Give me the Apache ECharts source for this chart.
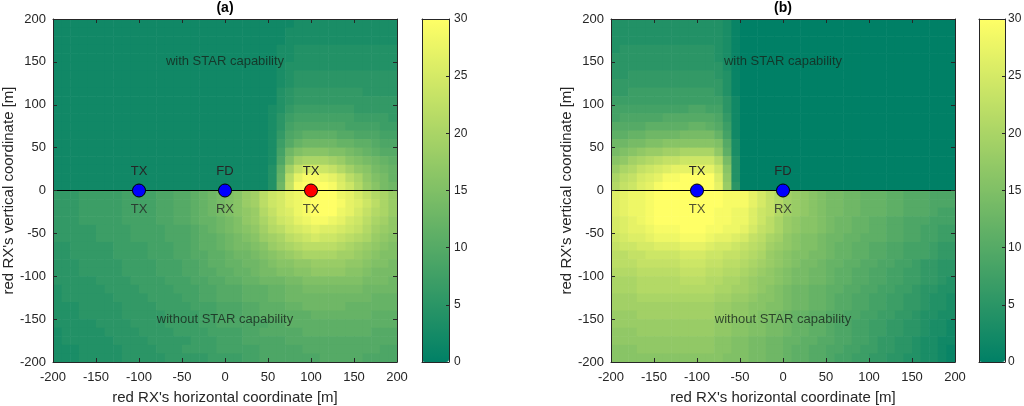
<!DOCTYPE html>
<html>
<head>
<meta charset="utf-8">
<script src="https://cdn.jsdelivr.net/npm/echarts@6/dist/echarts.min.js"></script>
<style>
html,body{margin:0;padding:0;background:#fff;}
#chart{width:1024px;height:406px;}
</style>
</head>
<body>
<div id="chart"></div>
<script>
// ---------- data ----------
const xCenters = [-195,-185,-175,-165,-155,-145,-135,-125,-115,-105,-95,-85,-75,-65,-55,-45,-35,-25,-15,-5,
                  5,15,25,35,45,55,65,75,85,95,105,115,125,135,145,155,165,175,185,195];
const yCenters = [195,185,175,165,155,145,135,125,115,105,95,85,75,65,55,45,35,25,15,5,
                  -5,-15,-25,-35,-45,-55,-65,-75,-85,-95,-105,-115,-125,-135,-145,-155,-165,-175,-185,-195];

// panel (a): upper half (with STAR capability), rows y=195..5, columns x=-195..195
const panelAUpper = [
  [2,2,2,2,2,2,2,2,2,2, 2,2,2,2,2,2,2,2,2,2, 2,2,2,2,2,2,2,2,3,3, 3,3,3,3,3,3,3,3,3,3],
  [2,2,2,2,2,2,2,2,2,2, 2,2,2,2,2,2,2,2,2,2, 2,2,2,2,2,2,2,3,3,3, 3,3,3,3,3,3,3,3,3,3],
  [2,2,2,2,2,2,2,2,2,2, 2,2,2,2,2,2,2,2,2,2, 2,2,2,2,2,2,2,3,3,3, 3,3,3,3,3,3,3,3,3,3],
  [2,2,2,2,2,2,2,2,2,2, 2,2,2,2,2,2,2,2,2,2, 2,2,2,2,2,2,3,3,4,4, 4,4,4,4,4,4,4,4,4,4],
  [2,2,2,2,2,2,2,2,2,2, 2,2,2,2,2,2,2,2,2,2, 2,2,2,2,2,2,3,3,4,4, 4,4,4,4,4,4,4,4,4,4],
  [2,2,2,2,2,2,2,2,2,2, 2,2,2,2,2,2,2,2,2,2, 2,2,2,2,2,2,3,4,4,4, 4,4,4,4,4,4,4,4,4,4],
  [2,2,2,2,2,2,2,2,2,2, 2,2,2,2,2,2,2,2,2,2, 2,2,2,2,2,2,3,4,5,5, 5,5,5,5,5,5,5,5,5,5],
  [2,2,2,2,2,2,2,2,2,2, 2,2,2,2,2,2,2,2,2,2, 2,2,2,2,2,2,3,4,5,5, 5,5,5,5,5,5,5,5,5,5],
  [2,2,2,2,2,2,2,2,2,2, 2,2,2,2,2,2,2,2,2,2, 2,2,2,2,2,2,4,5,6,6, 6,6,6,6,6,6,5,5,5,5],
  [2,2,2,2,2,2,2,2,2,2, 2,2,2,2,2,2,2,2,2,2, 2,2,2,2,2,2,4,5,6,6, 6,6,6,6,6,6,6,6,6,6],
  [2,2,2,2,2,2,2,2,2,2, 2,2,2,2,2,2,2,2,2,2, 2,2,2,2,2,3,4,6,7,7, 7,7,7,7,7,6,6,6,6,6],
  [2,2,2,2,2,2,2,2,2,2, 2,2,2,2,2,2,2,2,2,2, 2,2,2,2,2,3,5,7,8,8, 8,8,8,8,8,7,7,7,7,6],
  [2,2,2,2,2,2,2,2,2,2, 2,2,2,2,2,2,2,2,2,2, 2,2,2,2,2,3,5,8,9,9, 9,9,9,9,8,8,8,8,7,7],
  [2,2,2,2,2,2,2,2,2,2, 2,2,2,2,2,2,2,2,2,2, 2,2,2,2,2,3,6,9,10,11, 11,11,11,10,10,9,9,9,8,8],
  [2,2,2,2,2,2,2,2,2,2, 2,2,2,2,2,2,2,2,2,2, 2,2,2,2,2,3,7,10,12,13, 13,13,13,12,12,11,11,10,9,9],
  [2,2,2,2,2,2,2,2,2,2, 2,2,2,2,2,2,2,2,2,2, 2,2,2,2,2,3,8,13,15,16, 16,16,15,15,14,13,12,11,10,10],
  [2,2,2,2,2,2,2,2,2,2, 2,2,2,2,2,2,2,2,2,2, 2,2,2,2,2,3,9,15,19,20, 20,20,19,18,16,15,14,13,12,11],
  [2,2,2,2,2,2,2,2,2,2, 2,2,2,2,2,2,2,2,2,2, 2,2,2,2,2,4,11,19,23,25, 25,24,23,21,19,17,16,14,13,12],
  [2,2,2,2,2,2,2,2,2,2, 2,2,2,2,2,2,2,2,2,2, 2,2,2,2,2,4,12,22,27,29, 29,28,27,25,22,20,17,15,14,12],
  [2,2,2,2,2,2,2,2,2,2, 2,2,2,2,2,2,2,2,2,2, 2,2,2,2,2,4,13,23,29,30, 30,30,29,26,24,21,18,16,14,13]
];
// panel (a): lower half (without STAR capability), rows y=-5..-195
const panelALower = [
  [6,6,6,7,7,7,7,7,8,8, 8,8,9,9,10,10,11,12,13,14, 15,16,18,19,22,24,25,27,28,29, 30,30,30,28,27,25,23,21,20,18],
  [6,6,6,7,7,7,7,7,8,8, 8,8,9,9,10,10,11,12,13,14, 15,16,18,19,22,24,25,27,28,29, 30,30,30,29,27,26,24,22,20,18],
  [6,6,6,7,7,7,7,7,8,8, 8,8,9,9,10,10,11,12,13,14, 15,16,17,18,21,23,25,26,28,29, 30,30,30,28,27,25,23,21,20,18],
  [6,6,6,7,7,7,7,7,8,8, 8,8,9,9,10,10,11,12,12,13, 14,15,17,18,20,22,24,25,27,28, 29,29,28,27,25,24,22,20,19,17],
  [6,6,6,6,6,7,7,7,7,8, 8,8,8,9,9,9,10,11,12,13, 14,15,16,17,19,21,22,24,25,26, 27,26,26,25,24,23,21,19,18,17],
  [6,6,6,6,6,7,7,7,7,8, 8,8,8,9,9,9,10,11,11,12, 13,14,15,16,18,19,20,22,23,24, 25,24,24,23,22,21,20,18,17,16],
  [5,5,6,6,6,6,6,7,7,7, 7,8,8,8,9,9,10,11,11,12, 13,14,14,15,16,18,19,20,21,22, 22,22,22,21,20,19,18,17,16,15],
  [5,5,6,6,6,6,6,7,7,7, 7,8,8,8,9,9,10,10,11,11, 12,13,13,14,15,16,17,18,19,20, 20,20,20,19,19,18,17,16,15,15],
  [5,5,5,6,6,6,6,6,7,7, 7,7,8,8,8,9,9,10,11,11, 12,12,13,13,14,15,16,16,17,17, 18,18,18,18,17,17,16,15,15,14],
  [5,5,5,6,6,6,6,6,7,7, 7,7,8,8,8,9,9,10,10,11, 11,12,12,13,14,14,15,15,16,16, 17,17,17,17,16,16,15,14,14,14],
  [5,5,5,5,5,6,6,6,6,7, 7,7,7,8,8,8,9,9,10,10, 11,11,12,12,13,13,13,14,14,15, 15,15,15,15,15,15,14,14,14,13],
  [4,5,5,5,5,5,6,6,6,6, 7,7,7,7,8,8,8,9,9,10, 10,10,11,11,11,12,12,13,13,14, 14,14,14,14,14,14,13,13,13,13],
  [4,5,5,5,5,5,5,6,6,6, 6,7,7,7,7,8,8,9,9,10, 10,10,11,11,11,12,12,13,13,13, 13,13,13,13,13,13,13,12,12,12],
  [4,4,4,5,5,5,5,5,6,6, 6,6,7,7,7,7,8,8,8,9, 9,9,10,10,11,11,11,12,12,13, 13,13,13,13,12,12,12,12,12,12],
  [4,4,4,5,5,5,5,5,6,6, 6,6,6,7,7,7,7,8,8,9, 9,9,10,10,11,11,11,11,11,11, 12,12,12,12,12,12,12,11,11,11],
  [4,4,4,4,4,5,5,5,5,6, 6,6,6,7,7,7,7,8,8,9, 9,9,9,9,9,10,10,11,11,11, 11,11,11,11,11,11,11,11,11,11],
  [3,4,4,4,4,4,5,5,5,5, 6,6,6,6,7,7,7,7,8,8, 8,8,9,9,10,10,10,10,10,11, 11,11,11,11,11,11,11,10,10,10],
  [3,4,4,4,4,4,4,5,5,5, 5,6,6,6,6,6,7,7,7,8, 8,8,9,9,9,9,9,10,10,10, 10,10,10,10,10,10,10,10,10,10],
  [3,3,3,4,4,4,4,4,5,5, 5,5,6,6,6,7,7,7,7,8, 8,8,8,8,9,9,9,9,9,10, 10,10,10,10,10,10,10,10,9,9],
  [3,3,3,4,4,4,4,4,5,5, 5,5,5,6,6,6,6,6,7,7, 7,7,8,8,9,9,9,9,9,9, 9,10,10,10,10,10,9,9,9,9]
];
// panel (b): upper half (with STAR capability), rows y=195..5
const panelBUpper = [
  [4,4,4,4,4,4,4,4,4,4, 4,4,4,3,1,0,0,0,0,0, 0,0,0,0,0,0,0,0,0,0, 0,0,0,0,0,0,0,0,0,0],
  [4,4,4,4,4,4,4,4,4,4, 4,4,4,3,1,0,0,0,0,0, 0,0,0,0,0,0,0,0,0,0, 0,0,0,0,0,0,0,0,0,0],
  [4,4,4,4,4,4,4,4,4,4, 4,4,4,3,1,0,0,0,0,0, 0,0,0,0,0,0,0,0,0,0, 0,0,0,0,0,0,0,0,0,0],
  [4,5,5,5,5,5,5,5,5,5, 5,5,4,3,1,0,0,0,0,0, 0,0,0,0,0,0,0,0,0,0, 0,0,0,0,0,0,0,0,0,0],
  [5,5,5,5,5,5,5,5,5,5, 5,5,4,3,1,0,0,0,0,0, 0,0,0,0,0,0,0,0,0,0, 0,0,0,0,0,0,0,0,0,0],
  [5,5,5,5,5,5,5,5,5,5, 5,5,5,3,1,0,0,0,0,0, 0,0,0,0,0,0,0,0,0,0, 0,0,0,0,0,0,0,0,0,0],
  [5,5,6,6,6,6,6,6,6,6, 6,6,5,4,1,0,0,0,0,0, 0,0,0,0,0,0,0,0,0,0, 0,0,0,0,0,0,0,0,0,0],
  [6,6,6,6,6,6,6,6,6,6, 6,6,6,4,1,0,0,0,0,0, 0,0,0,0,0,0,0,0,0,0, 0,0,0,0,0,0,0,0,0,0],
  [6,6,7,7,7,7,7,7,7,7, 7,7,6,4,1,0,0,0,0,0, 0,0,0,0,0,0,0,0,0,0, 0,0,0,0,0,0,0,0,0,0],
  [7,7,7,7,7,7,7,7,7,7, 7,7,7,5,2,0,0,0,0,0, 0,0,0,0,0,0,0,0,0,0, 0,0,0,0,0,0,0,0,0,0],
  [8,8,8,8,8,8,8,8,8,9, 9,8,8,5,2,0,0,0,0,0, 0,0,0,0,0,0,0,0,0,0, 0,0,0,0,0,0,0,0,0,0],
  [8,9,9,9,9,9,10,10,10,10, 10,10,9,6,2,0,0,0,0,0, 0,0,0,0,0,0,0,0,0,0, 0,0,0,0,0,0,0,0,0,0],
  [10,10,10,10,11,11,11,11,11,12, 12,11,10,7,2,0,0,0,0,0, 0,0,0,0,0,0,0,0,0,0, 0,0,0,0,0,0,0,0,0,0],
  [11,11,12,12,13,13,13,13,14,14, 14,14,12,8,2,0,0,0,0,0, 0,0,0,0,0,0,0,0,0,0, 0,0,0,0,0,0,0,0,0,0],
  [13,13,14,14,15,15,16,16,16,16, 16,16,15,10,3,0,0,0,0,0, 0,0,0,0,0,0,0,0,0,0, 0,0,0,0,0,0,0,0,0,0],
  [14,15,16,17,18,18,19,19,20,20, 20,20,17,11,3,0,0,0,0,0, 0,0,0,0,0,0,0,0,0,0, 0,0,0,0,0,0,0,0,0,0],
  [16,17,19,20,21,22,23,23,24,24, 24,24,21,14,4,0,0,0,0,0, 0,0,0,0,0,0,0,0,0,0, 0,0,0,0,0,0,0,0,0,0],
  [18,20,21,23,24,25,26,27,27,27, 27,27,24,16,4,0,0,0,0,0, 0,0,0,0,0,0,0,0,0,0, 0,0,0,0,0,0,0,0,0,0],
  [20,22,23,25,26,27,29,29,30,30, 30,30,26,17,4,0,0,0,0,0, 0,0,0,0,0,0,0,0,0,0, 0,0,0,0,0,0,0,0,0,0],
  [21,23,24,26,27,29,30,30,30,30, 30,30,27,18,5,0,0,0,0,0, 0,0,0,0,0,0,0,0,0,0, 0,0,0,0,0,0,0,0,0,0]
];
// panel (b): lower half (without STAR capability), rows y=-5..-195
const panelBLower = [
  [26,27,28,28,29,30,30,30,30,30, 30,30,30,29,29,29,27,25,23,21, 19,18,17,16,15,14,14,13,13,12, 12,12,11,11,10,10,10,9,9,9],
  [26,27,28,28,29,30,30,30,30,30, 30,30,30,29,29,29,27,25,23,21, 19,18,17,16,15,14,14,13,13,12, 12,12,11,11,10,10,10,9,9,9],
  [26,27,28,28,29,30,30,30,30,30, 30,30,29,29,28,28,26,24,23,21, 19,18,17,16,15,14,14,13,13,12, 12,12,11,11,10,10,10,9,8,8],
  [25,26,27,28,29,30,30,30,30,30, 30,30,29,29,28,28,26,24,22,20, 18,17,16,16,15,14,13,13,12,12, 11,11,10,10,9,9,9,8,8,8],
  [25,26,27,27,28,29,29,29,30,30, 30,29,29,28,28,27,25,23,22,20, 18,17,16,16,15,14,13,13,12,12, 11,11,10,10,9,9,8,8,7,7],
  [24,25,26,26,27,28,28,28,29,29, 29,28,27,27,26,25,23,22,20,19, 17,16,15,15,14,13,13,12,12,11, 11,11,10,10,9,9,8,8,7,7],
  [23,24,24,25,25,26,26,26,27,27, 27,26,25,25,24,23,22,21,19,18, 17,16,15,15,14,13,12,12,11,11, 10,10,9,9,8,8,8,7,6,6],
  [22,22,23,23,24,24,24,24,25,25, 25,24,24,23,23,22,21,20,18,17, 16,15,15,14,14,13,12,12,11,11, 10,10,9,9,8,8,8,7,6,6],
  [22,22,22,23,23,23,23,23,24,24, 24,23,23,22,22,21,20,19,18,17, 16,15,14,14,13,12,12,11,11,10, 10,9,9,8,8,7,6,6,5,5],
  [21,21,21,22,22,22,22,22,23,23, 23,22,22,21,21,20,19,18,17,16, 15,14,14,13,13,12,11,11,10,10, 9,9,8,8,7,7,6,6,5,5],
  [20,20,20,21,21,21,21,21,22,22, 22,21,21,20,20,19,18,17,17,16, 15,14,14,13,13,12,11,11,10,10, 9,9,8,8,7,7,6,6,5,4],
  [20,20,20,21,21,21,21,21,21,21, 21,21,20,20,19,19,18,17,16,15, 14,13,13,12,12,11,11,10,10,9, 9,8,8,7,7,6,5,5,4,4],
  [19,19,19,20,20,20,20,20,20,20, 20,20,19,19,18,18,17,16,16,15, 14,13,13,12,12,11,10,10,9,9, 8,8,7,7,6,6,5,4,4,3],
  [19,19,19,19,19,19,19,19,19,19, 19,19,18,18,17,17,16,16,15,15, 14,13,13,12,12,11,10,10,9,9, 8,8,7,7,6,6,5,4,4,3],
  [18,18,18,19,19,19,19,19,19,19, 19,19,18,18,17,17,16,15,15,14, 13,12,12,11,11,10,10,9,9,8, 8,7,7,6,6,5,4,4,3,3],
  [18,18,18,18,18,18,18,18,18,18, 18,18,17,17,16,16,15,15,14,14, 13,12,12,11,11,10,9,9,8,8, 7,7,6,6,5,5,4,3,3,2],
  [17,17,17,18,18,18,18,18,18,18, 18,18,17,17,16,16,15,15,14,14, 13,12,12,11,11,10,9,9,8,8, 7,7,6,6,5,5,4,3,3,2],
  [17,17,17,17,17,17,17,17,17,17, 17,17,16,16,15,15,14,14,13,13, 12,12,11,11,10,10,9,9,8,8, 7,6,6,5,5,4,3,3,2,2],
  [16,16,16,17,17,17,17,17,17,17, 17,17,16,16,15,15,14,14,13,13, 12,11,11,10,10,9,9,8,8,7, 7,6,6,5,5,4,3,3,2,1],
  [16,16,16,16,16,16,16,16,16,16, 16,16,16,15,15,15,14,14,13,13, 12,11,11,10,10,9,8,8,7,7, 6,6,5,5,4,4,3,3,2,1]
];

// nodes
const nodesAX = [-100, 0, 100];
const nodesANet = ['blue', 'blue', 'red'];
const nodesATop = ['TX', 'FD', 'TX'];
const nodesABottom = ['TX', 'RX', 'TX'];
const nodesBX = [-100, 0];
const nodesBNet = ['blue', 'blue'];
const nodesBTop = ['TX', 'FD'];
const nodesBBottom = ['TX', 'RX'];

const regionLabels = ['with STAR capability', 'without STAR capability'];
const regionLabelY = [150, -150];
const panelTitles = ['(a)', '(b)'];
const xName = "red RX's horizontal coordinate [m]";
const yName = "red RX's vertical coordinate [m]";

// ---------- build ----------
const FONT = "'Liberation Sans', Arial, Helvetica, sans-serif";
const TXT = '#262626';
const CELL_HALF = 5;

function gridData(upper, lower) {
  const rows = upper.concat(lower);
  const out = [];
  rows.forEach((row, r) => row.forEach((v, c) => out.push([xCenters[c], yCenters[r], v])));
  return out;
}
const dataA = gridData(panelAUpper, panelALower);
const dataB = gridData(panelBUpper, panelBLower);

const netColor = { blue: '#0000ff', red: '#ff0000' };

function renderCell(params, api) {
  const x = api.value(0), y = api.value(1);
  const p0 = api.coord([x - CELL_HALF, y + CELL_HALF]);
  const p1 = api.coord([x + CELL_HALF, y - CELL_HALF]);
  return {
    type: 'rect',
    shape: { x: p0[0], y: p0[1], width: p1[0] - p0[0] + 0.6, height: p1[1] - p0[1] + 0.6 },
    style: { fill: api.visual('color') }
  };
}

const gridsPx = [
  { left: 53, top: 19, width: 344, height: 343 },
  { left: 422, top: 19, width: 27, height: 343 },
  { left: 611, top: 19, width: 344, height: 343 },
  { left: 979, top: 19, width: 26, height: 343 }
];
const cbarLabelMargin = [5, 3];

const axisLineStyle = { show: true, onZero: false, lineStyle: { color: TXT, width: 1 } };
const xAxes = [], yAxes = [];
function mainAxes(gi) {
  const base = { type: 'value', min: -200, max: 200, interval: 50, gridIndex: gi, z: 10, splitLine: { show: false },
    axisLine: axisLineStyle, axisTick: { show: true, inside: true, length: 4, lineStyle: { color: TXT } } };
  xAxes.push(Object.assign({}, base, { position: 'bottom',
    axisLabel: { color: TXT, fontSize: 13, fontFamily: FONT, margin: 9 },
    name: xName, nameLocation: 'middle', nameGap: 28,
    nameTextStyle: { color: TXT, fontSize: 15, fontFamily: FONT } }));
  xAxes.push(Object.assign({}, base, { position: 'top', axisLabel: { show: false } }));
  yAxes.push(Object.assign({}, base, { position: 'left',
    axisLabel: { color: TXT, fontSize: 13, fontFamily: FONT, margin: 7 },
    name: yName, nameLocation: 'middle', nameGap: 33,
    nameTextStyle: { color: TXT, fontSize: 15, fontFamily: FONT } }));
  yAxes.push(Object.assign({}, base, { position: 'right', axisLabel: { show: false } }));
}
function cbarAxes(gi, margin) {
  const hidden = { type: 'value', gridIndex: gi, z: 10, axisLine: axisLineStyle, axisTick: { show: false },
    axisLabel: { show: false }, splitLine: { show: false } };
  xAxes.push(Object.assign({}, hidden, { min: 0, max: 1, position: 'bottom' }));
  xAxes.push(Object.assign({}, hidden, { min: 0, max: 1, position: 'top' }));
  yAxes.push({ type: 'value', gridIndex: gi, z: 10, min: 0, max: 30, interval: 5, position: 'right',
    axisLine: axisLineStyle, axisTick: { show: true, inside: true, length: 3, lineStyle: { color: TXT } },
    axisLabel: { color: TXT, fontSize: 12, fontFamily: FONT, margin: margin }, splitLine: { show: false } });
  yAxes.push(Object.assign({}, hidden, { min: 0, max: 30, position: 'left' }));
}
mainAxes(0); cbarAxes(1, cbarLabelMargin[0]); mainAxes(2); cbarAxes(3, cbarLabelMargin[1]);

const series = [];
function panelSeries(data, xi, yi, nodesX, nodesNet, nodesTop, nodesBottom) {
  series.push({ type: 'custom', xAxisIndex: xi, yAxisIndex: yi, renderItem: renderCell,
    data: data, encode: { x: 0, y: 1 }, silent: true, z: 1 });
  series.push({ type: 'line', xAxisIndex: xi, yAxisIndex: yi, data: [[-200, 0], [200, 0]],
    symbol: 'none', lineStyle: { color: '#000', width: 1 }, silent: true, z: 3 });
  series.push({ type: 'scatter', xAxisIndex: xi, yAxisIndex: yi, z: 4, silent: true,
    data: regionLabels.map((t, i) => ({ value: [0, regionLabelY[i]], name: t })),
    symbolSize: 1, itemStyle: { color: 'rgba(0,0,0,0)' },
    label: { show: true, position: 'inside', formatter: '{b}', color: '#16241c', fontSize: 13, fontFamily: FONT } });
  series.push({ type: 'scatter', xAxisIndex: xi, yAxisIndex: yi, z: 4, silent: true,
    data: nodesX.map((x, i) => ({ value: [x, 0], name: nodesBottom[i] })),
    symbolSize: 13, itemStyle: { color: 'rgba(0,0,0,0)' },
    label: { show: true, position: 'bottom', distance: 6, formatter: '{b}', color: TXT, fontSize: 13, fontFamily: FONT } });
  series.push({ type: 'scatter', xAxisIndex: xi, yAxisIndex: yi, z: 5, silent: true,
    data: nodesX.map((x, i) => ({ value: [x, 0], name: nodesTop[i], itemStyle: { color: netColor[nodesNet[i]] } })),
    symbolSize: 13, itemStyle: { borderColor: '#000', borderWidth: 1, opacity: 1 },
    label: { show: true, position: 'top', distance: 6, formatter: '{b}', color: TXT, fontSize: 13, fontFamily: FONT } });
}
panelSeries(dataA, 0, 0, nodesAX, nodesANet, nodesATop, nodesABottom);
const seriesBStart = series.length;
panelSeries(dataB, 4, 4, nodesBX, nodesBNet, nodesBTop, nodesBBottom);

const summer = ['#008066', '#ffff66'];
const graphics = panelTitles.map((t, i) => ({
  type: 'text', x: [225, 783][i], y: 8, z: 10,
  style: { text: t, textAlign: 'center', textVerticalAlign: 'middle', fill: '#000', font: 'bold 14px ' + FONT }
}));

const option = {
  animation: false,
  backgroundColor: '#ffffff',
  grid: gridsPx.map(g => Object.assign({ containLabel: false, outerBoundsMode: 'none' }, g)),
  xAxis: xAxes,
  yAxis: yAxes,
  visualMap: [
    { type: 'continuous', min: 0, max: 30, dimension: 2, seriesIndex: 0, inRange: { color: summer },
      left: 422, top: 19, itemWidth: 27, itemHeight: 343, padding: 0, calculable: false, hoverLink: false, text: null, showLabel: false },
    { type: 'continuous', min: 0, max: 30, dimension: 2, seriesIndex: seriesBStart, inRange: { color: summer },
      left: 979, top: 19, itemWidth: 26, itemHeight: 343, padding: 0, calculable: false, hoverLink: false, text: null, showLabel: false }
  ],
  graphic: graphics,
  series: series
};

const chart = echarts.init(document.getElementById('chart'), null, { renderer: 'canvas' });
chart.setOption(option);
</script>
</body>
</html>
